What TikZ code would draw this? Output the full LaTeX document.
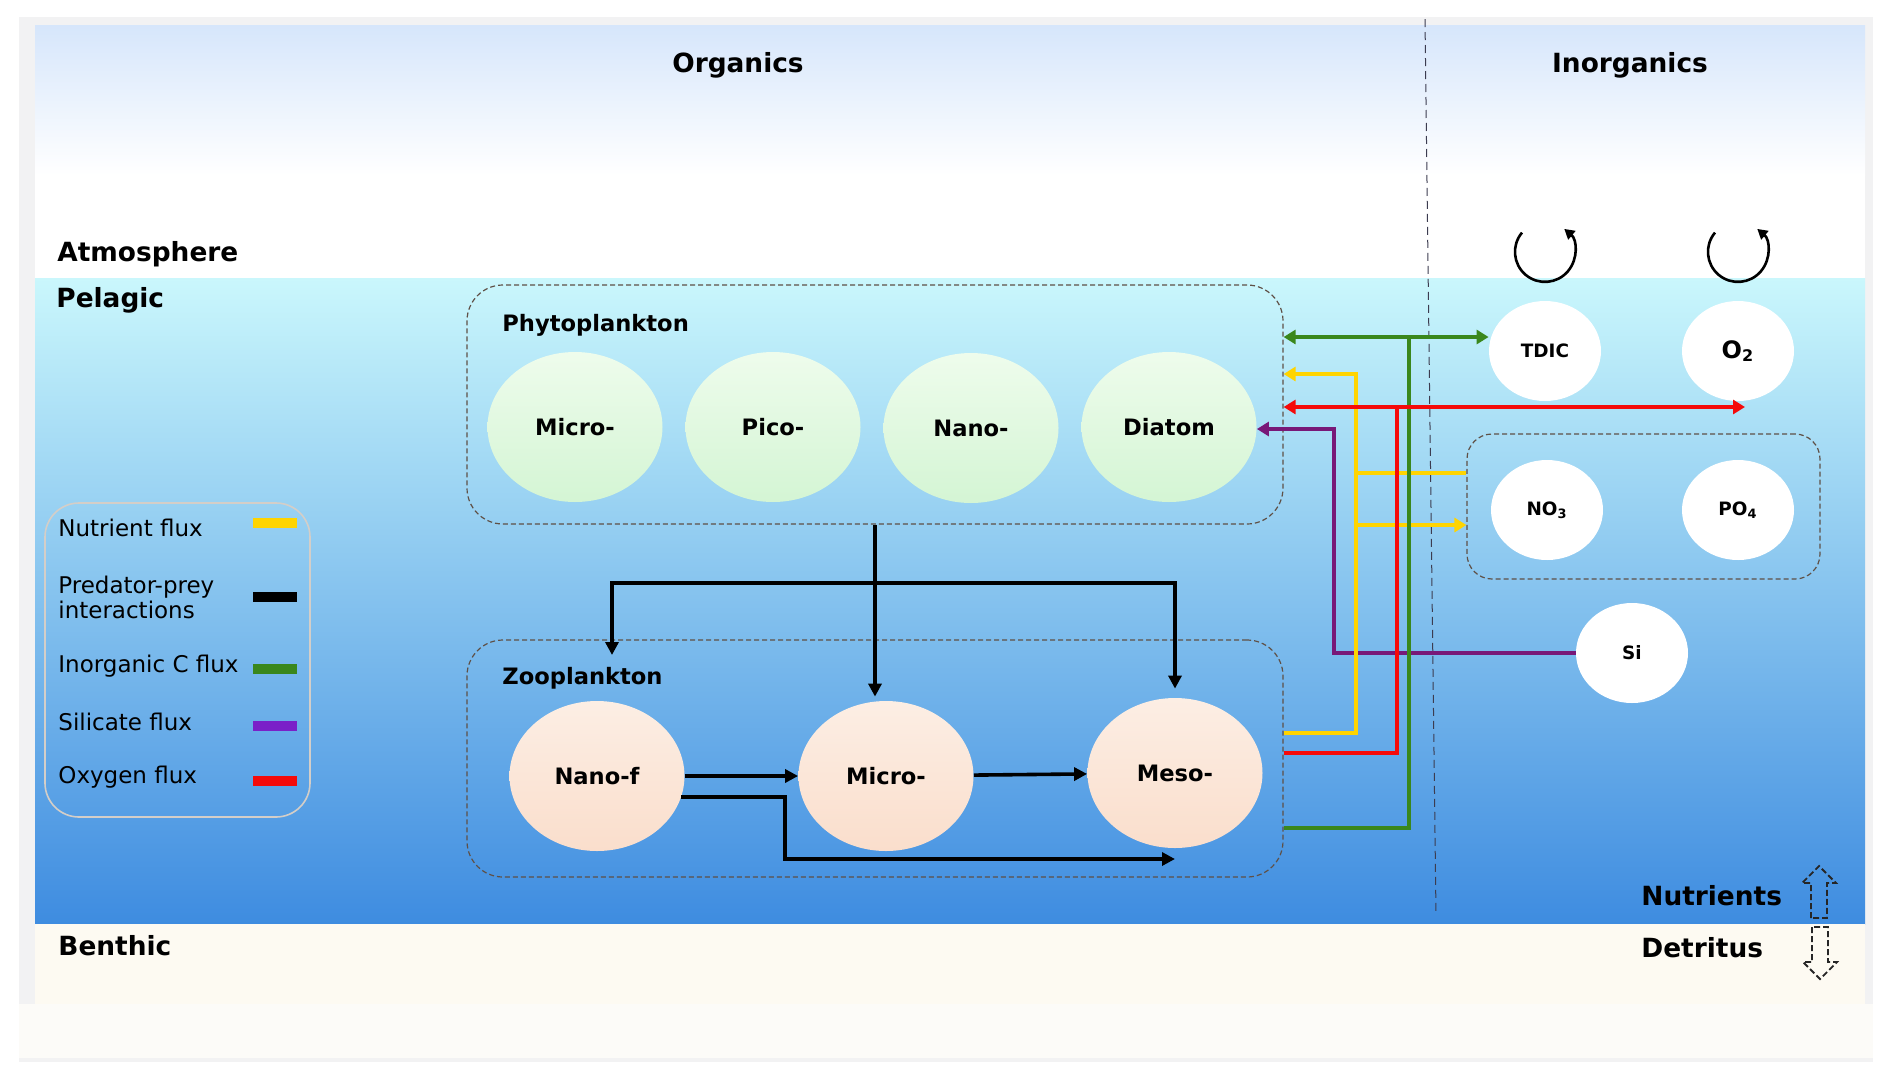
\documentclass[tikz,border=0pt]{standalone}
\usepackage{fontspec}
\setmainfont{DejaVu Sans}
\usetikzlibrary{shapes.geometric,arrows.meta}
\definecolor{skyTop}{RGB}{214,230,251}
\definecolor{seaTop}{RGB}{202,247,252}
\definecolor{seaMid}{RGB}{150,208,250}
\definecolor{seaBot}{RGB}{62,140,224}
\definecolor{sandC}{RGB}{253,250,242}
\definecolor{offC}{RGB}{252,251,248}
\definecolor{frameC}{RGB}{242,242,243}
\definecolor{boxC}{RGB}{95,80,70}
\definecolor{legC}{RGB}{212,206,200}
\definecolor{phyTop}{RGB}{238,252,236}
\definecolor{phyBot}{RGB}{212,245,212}
\definecolor{zooTop}{RGB}{252,238,228}
\definecolor{zooBot}{RGB}{250,222,204}
\definecolor{nutC}{RGB}{255,212,0}
\definecolor{inCC}{RGB}{58,135,28}
\definecolor{siC}{RGB}{120,24,120}
\definecolor{siLeg}{RGB}{122,32,200}
\definecolor{oxC}{RGB}{245,10,10}
\begin{document}
\begin{tikzpicture}[x=0.5pt,y=-0.5pt,
    zone/.style={inner sep=0pt, font=\bfseries\fontsize{13.2}{15}\selectfont},
    boxtitle/.style={inner sep=0pt, font=\bfseries\fontsize{11.3}{13}\selectfont},
    legtxt/.style={inner sep=0pt, align=left, font=\fontsize{11.5}{12.5}\selectfont},
    group/.style={draw=boxC, line width=0.6pt, dash pattern=on 2.5pt off 1.5pt, rounded corners=18pt, inner sep=0pt},
    legbox/.style={draw=legC, line width=0.8pt, rounded corners=17pt, inner sep=0pt},
    phyto/.style={ellipse, inner sep=0pt, minimum width=87.5pt, minimum height=75pt, top color=phyTop, bottom color=phyBot, font=\bfseries\fontsize{11.3}{13}\selectfont},
    zoo/.style={phyto, top color=zooTop, bottom color=zooBot},
    inorg/.style={ellipse, inner sep=0pt, minimum width=56pt, minimum height=50pt, fill=white, font=\bfseries\fontsize{9.2}{11}\selectfont},
    prey/.style={line width=1.8pt, >={Triangle[length=6.5pt,width=6.5pt]}},
    flux/.style={line width=2.2pt, >={Triangle[length=6pt,width=7pt]}},
    nflux/.style={flux, nutC},
    cflux/.style={flux, inCC, line width=2pt},
    oflux/.style={flux, oxC},
    siflux/.style={flux, siC, line width=2pt},
    swatch/.style={line width=5pt},
    recyc/.style={line width=1.3pt, >={Triangle[length=5pt,width=5.5pt]}},
    hollow/.style={draw=black!85, line width=0.9pt, dash pattern=on 3pt off 1.5pt},
    divider/.style={draw={rgb,255:red,60;green,60;blue,80}, line width=0.5pt, dash pattern=on 4pt off 2.5pt}]
\useasboundingbox (0,0) rectangle (1892,1083);
\fill[white] (0,0) rectangle (1892,1083);
\fill[frameC] (19,17) rectangle (1873,1062);
\fill[offC] (19,1004) rectangle (1873,1058);
\shade[top color=skyTop, bottom color=white] (35,25) rectangle (1865,175);
\fill[white] (35,175) rectangle (1865,278);
\shade[top color=seaTop, middle color=seaMid, bottom color=seaBot] (35,278) rectangle (1865,924);
\fill[sandC] (35,924) rectangle (1865,1004);
\draw[divider] (1425,19) -- (1436,915);

\node[zone] (organics) at (738,65) {Organics};
\node[zone] (inorganics) at (1630,65) {Inorganics};
\node[zone, anchor=west] (atmo) at (57,254) {Atmosphere};
\node[zone, anchor=west] (pelagic) at (56,300) {Pelagic};
\node[zone, anchor=west] (benthic) at (58,946) {Benthic};
\node[zone, anchor=west] (nutlab) at (1641,896) {Nutrients};
\node[zone, anchor=west] (detlab) at (1641,948) {Detritus};

\node[group, minimum width=408pt, minimum height=119.5pt] (phytobox) at (875,404.5) {};
\node[group, minimum width=408pt, minimum height=118.5pt] (zoobox) at (875,758.5) {};
\node[group, rounded corners=12.5pt, minimum width=176.5pt, minimum height=72.5pt] (nutbox) at (1643.5,506.5) {};
\node[boxtitle, anchor=west] (phytitle) at (502,325) {Phytoplankton};
\node[boxtitle, anchor=west] (zootitle) at (502,678) {Zooplankton};

\node[phyto] (pmicro) at (575,427) {Micro-};
\node[phyto] (ppico) at (773,427) {Pico-};
\node[phyto] (pnano) at (971,428) {Nano-};
\node[phyto] (diatom) at (1169,427) {Diatom};

\node[zoo] (znano) at (597,776) {Nano-f};
\node[zoo] (zmicro) at (886,776) {Micro-};
\node[zoo] (zmeso) at (1175,773) {Meso-};

\node[inorg] (tdic) at (1545,351) {TDIC};
\node[inorg, font=\bfseries\fontsize{12}{14}\selectfont] (otwo) at (1738,351) {O\textsubscript{2}};
\node[inorg] (nothree) at (1547,510) {NO\textsubscript{3}};
\node[inorg] (pofour) at (1738,510) {PO\textsubscript{4}};
\node[inorg] (si) at (1632,653) {Si};

\draw[recyc,->] ([shift={(-23,-68)}]tdic.north) arc[start angle=140, end angle=410, radius=15pt];
\draw[recyc,->] ([shift={(-23,-68)}]otwo.north) arc[start angle=140, end angle=410, radius=15pt];

\coordinate (fork) at (875,583);
\coordinate (zfeed) at (612,655);
\coordinate (zbend) at (785,859);
\draw[prey,->, shorten >=2pt] (phytobox.south) -- (phytobox.south |- zmicro.north);
\draw[prey,->] (fork) -| (zfeed);
\draw[prey,->, shorten >=4.5pt] (fork) -| (zmeso.north);
\draw[prey,->] (znano) -- (zmicro);
\draw[prey,->] (zmicro) -- (zmeso);
\draw[prey,->] (znano.-14) -| (zbend) -- (zbend -| zmeso);

\coordinate (sibus) at (1334,429);
\draw[siflux,->] (si.west) -| (sibus) -- (diatom.east |- sibus);

\coordinate (nbus) at (1356,374);
\coordinate (nbot) at (1356,733);
\coordinate (nno) at (1356,473);
\coordinate (npo) at (1356,525);
\draw[nflux,->] (zoobox.east |- nbot) -| (nbus) -- (phytobox.east |- nbus);
\draw[nflux] (nno) -- (nutbox.west |- nno);
\draw[nflux,->] (npo) -- (nutbox.west |- npo);

\coordinate (cbus) at (1409,337);
\coordinate (cbot) at (1409,828);
\draw[cflux,<->] (phytobox.east |- cbus) -- (tdic.west |- cbus);
\draw[cflux] (zoobox.east |- cbot) -| (cbus);

\coordinate (obus) at (1397,407);
\coordinate (obot) at (1397,753);
\draw[oflux] (zoobox.east |- obot) -| (obus);
\draw[oflux,<->] (phytobox.east |- obus) -- ([xshift=3.5pt]otwo.south |- obus);

\node[legbox, minimum width=132.5pt, minimum height=157pt] (legend) at (177.5,660) {};
\node[legtxt, anchor=west] (lnut) at (58,528) {Nutrient flux};
\node[legtxt, anchor=west] (lprey) at (58,597) {Predator-prey\\interactions};
\node[legtxt, anchor=west] (linc) at (58,666) {Inorganic C flux};
\node[legtxt, anchor=west] (lsil) at (58,722) {Silicate flux};
\node[legtxt, anchor=west] (lox) at (58,777) {Oxygen flux};
\draw[swatch, nutC] (253,523) -- (297,523);
\draw[swatch, black] (253,597) -- (297,597);
\draw[swatch, inCC] (253,669) -- (297,669);
\draw[swatch, siLeg] (253,726) -- (297,726);
\draw[swatch, oxC] (253,781) -- (297,781);

\draw[hollow] (1811,918) -- (1811,883) -- (1802,883) -- (1819,866) -- (1836,883) -- (1827,883) -- (1827,918) -- cycle;
\draw[hollow] (1812,927) -- (1812,962) -- (1803,962) -- (1820,979) -- (1837,962) -- (1828,962) -- (1828,927) -- cycle;
\end{tikzpicture}
\end{document}
